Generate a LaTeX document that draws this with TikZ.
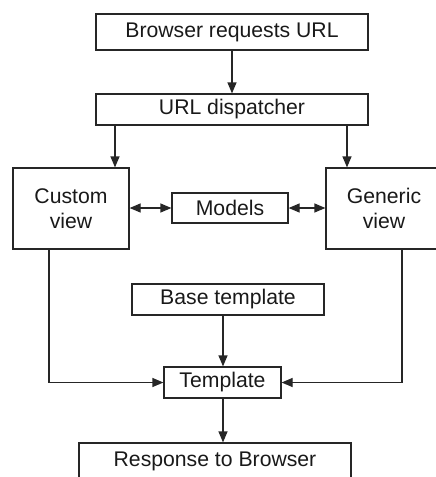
\documentclass[tikz,border=0pt]{standalone}
\usepackage{fontspec}
\setmainfont{Liberation Sans}
\usetikzlibrary{arrows.meta}
\begin{document}
\begin{tikzpicture}[x=1pt,y=-1pt,
  box/.style={draw=black!85, line width=1.2pt, rectangle, inner sep=0pt,
    text=black!90, font=\fontsize{21.2}{25}\selectfont, align=center},
  flow/.style={draw=black!85, line width=1.2pt, -{Triangle[length=11pt,width=9pt]}},
  both/.style={draw=black!85, line width=1.2pt,
    {Triangle[length=11pt,width=9pt]}-{Triangle[length=11pt,width=9pt]}}]
\useasboundingbox (0,0) rectangle (436,477);
\clip (0,0) rectangle (436,477);

% boxes
\node[box, minimum width=272pt, minimum height=36pt] (req) at (232,32) {Browser requests URL};
\node[box, minimum width=272pt, minimum height=31pt] (disp) at (232,109.5) {URL dispatcher};
\node[box, minimum width=116pt, minimum height=81pt] (custom) at (71,208.5) {Custom\\view};
\node[box, minimum width=116pt, minimum height=81pt] (generic) at (384,208.5) {Generic\\view};
\node[box, minimum width=116pt, minimum height=30pt] (models) at (230,208) {Models};
\node[box, minimum width=192pt, minimum height=31pt] (base) at (228,299.5) {Base template};
\node[box, minimum width=117pt, minimum height=31pt] (tmpl) at (222.5,382.5) {Template};
\node[box, minimum width=272pt, minimum height=36pt] (resp) at (215,461) {Response to Browser};

% connector columns
\coordinate (cl) at (115,0);
\coordinate (cr) at (347,0);
\coordinate (dl) at (49,0);
\coordinate (dr) at (402,0);
\coordinate (mid) at (223,0);

% connectors
\draw[flow] (req.south) -- (disp.north);
\draw[flow] (disp.south -| cl) -- (custom.north -| cl);
\draw[flow] (disp.south -| cr) -- (generic.north -| cr);
\draw[both] (models.west -| custom.east) -- (models.west);
\draw[both] (models.east) -- (models.east -| generic.west);
\draw[flow] (custom.south -| dl) |- (tmpl.west);
\draw[flow] (generic.south -| dr) |- (tmpl.east);
\draw[flow] (base.south -| mid) -- (tmpl.north -| mid);
\draw[flow] (tmpl.south -| mid) -- (resp.north -| mid);
\end{tikzpicture}
\end{document}
